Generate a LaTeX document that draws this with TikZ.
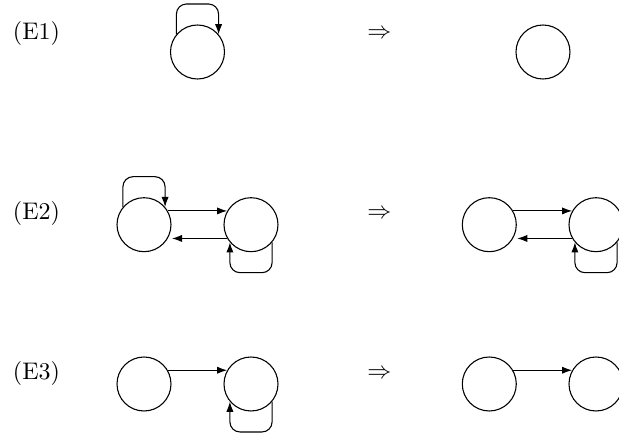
\documentclass[tikz,border=0pt]{standalone}
\usetikzlibrary{arrows.meta,calc}
\begin{document}
\begin{tikzpicture}[x=0.4167pt,y=0.4167pt,
  state/.style={circle,draw,line width=0.45pt,inner sep=0pt,minimum size=22.5pt},
  lbl/.style={inner sep=0pt,anchor=center},
  arr/.style={line width=0.45pt,-{Latex[length=4.2pt,width=3pt]}},
  loopup/.style={arr,rounded corners=4.2pt},
]
\clip (0,0) rectangle (619,435);
\useasboundingbox (0,0) rectangle (619,435);
% E1
\node[lbl] (l1) at (36.5,401) {(E1)};
\node[lbl] (r1) at (379.5,401) {$\Rightarrow$};
\node[state] (a) at (197.5,383) {};
\node[state] (b) at (543,383) {};
\draw[loopup] (a.140) |- ($(a.center)+(0,48)$) -| (a.40);
% E2
\node[lbl] (l2) at (36.5,221) {(E2)};
\node[lbl] (r2) at (379.5,221) {$\Rightarrow$};
\node[state] (c) at (144,210.3) {};
\node[state] (d) at (251,210.3) {};
\node[state] (e) at (489.3,210.3) {};
\node[state] (f) at (596,210.3) {};
\draw[loopup] (c.140) |- ($(c.center)+(0,48)$) -| (c.40);
\draw[arr] (c.30) -- (d.150);
\draw[arr,shorten >=1.7pt] (d.-150) -- (c.-30);
\draw[loopup] (d.-40) |- ($(d.center)+(0,-48)$) -| (d.-140);
\draw[arr] (e.30) -- (f.150);
\draw[arr,shorten >=1.7pt] (f.-150) -- (e.-30);
\draw[loopup] (f.-40) |- ($(f.center)+(0,-48)$) -| (f.-140);
% E3
\node[lbl] (l3) at (36.5,61) {(E3)};
\node[lbl] (r3) at (379.5,61) {$\Rightarrow$};
\node[state] (g) at (144,51) {};
\node[state] (h) at (251,51) {};
\node[state] (i) at (489.3,51) {};
\node[state] (j) at (596,51) {};
\draw[arr] (g.30) -- (h.150);
\draw[loopup] (h.-40) |- ($(h.center)+(0,-48)$) -| (h.-140);
\draw[arr] (i.30) -- (j.150);
\end{tikzpicture}
\end{document}
